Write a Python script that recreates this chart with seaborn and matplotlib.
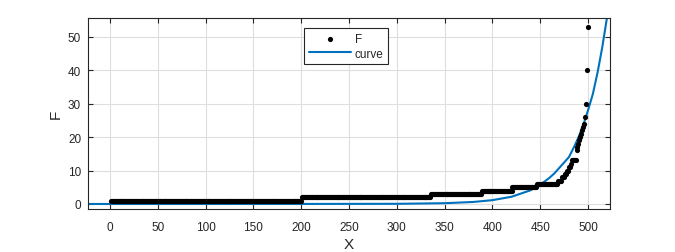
import numpy as np
import pandas as pd
import matplotlib
matplotlib.use("Agg")
import matplotlib.pyplot as plt
import seaborn as sns

# F data: sorted step values and their run lengths (x = 1..500)
F_levels = [1, 2, 3, 4, 5, 6,
            7, 7, 7, 7, 8, 8, 8, 9, 9, 10, 10, 11, 11, 12, 13, 13, 13, 13, 13,
            16, 17, 18, 19, 20, 21, 22, 23, 24, 26, 30, 40, 53]
F_counts = [200, 135, 53, 32, 26, 22] + [1] * 32

# fitted curve samples
curve_x = [-25, 0, 100, 200, 300, 350, 380, 400, 420, 440, 450, 455, 460, 465,
           470, 475, 480, 485, 490, 495, 500, 505, 510, 515, 520, 525]
curve_y = [0, 0, 0, 0.01, 0.05, 0.23, 0.6, 1.14, 2.16, 4.1, 5.8, 6.8, 7.9, 9.2,
           10.8, 12.4, 14.0, 16.8, 19.9, 23.5, 28, 32.8, 39.3, 47, 56, 66]

F_vals = np.repeat(F_levels, F_counts)
X_vals = np.arange(1, len(F_vals) + 1)
df_pts = pd.DataFrame({"X": X_vals, "F": F_vals})
df_cur = pd.DataFrame({"X": curve_x, "F": curve_y})

sns.set_theme(style="white")
plt.rcParams['font.family'] = ['Liberation Sans', 'DejaVu Sans']

fig = plt.figure(figsize=(6.75, 2.53), dpi=100)
ax = fig.add_axes([0.1304, 0.170, 0.7733, 0.755])

sns.scatterplot(data=df_pts, x="X", y="F", ax=ax, color="black", s=14,
                linewidth=0, label="F", zorder=3)
sns.lineplot(data=df_cur, x="X", y="F", ax=ax, color="#0072BD", linewidth=1.5,
             label="curve", zorder=2)

ax.set_xlim(-23, 523)
ax.set_ylim(-1.5, 55.6)
ax.set_xticks(np.arange(0, 501, 50))
ax.set_yticks(np.arange(0, 51, 10))
ax.grid(True, color="#dedede", linewidth=0.8)
ax.set_axisbelow(True)
for s in ax.spines.values():
    s.set_color("#262626")
    s.set_linewidth(0.8)
ax.tick_params(direction="in", length=3.5, width=0.8, colors="#262626",
               labelsize=8.5, top=True, right=True, bottom=True, left=True,
               labelcolor="#262626", pad=5)
ax.tick_params(axis="x", pad=9)
ax.set_xlabel("X", fontsize=11, color="#262626", labelpad=2.5)
ax.set_ylabel("F", fontsize=11, color="#262626", labelpad=4)

leg = ax.legend(loc="upper left", bbox_to_anchor=(0.414, 0.948), fontsize=8.5,
                frameon=True, fancybox=False, edgecolor="#262626",
                framealpha=1, borderpad=0.4, handlelength=3.6,
                handletextpad=0.3, labelspacing=0.25, borderaxespad=0)
leg.get_frame().set_linewidth(0.8)

fig.savefig("out.png", dpi=100)
